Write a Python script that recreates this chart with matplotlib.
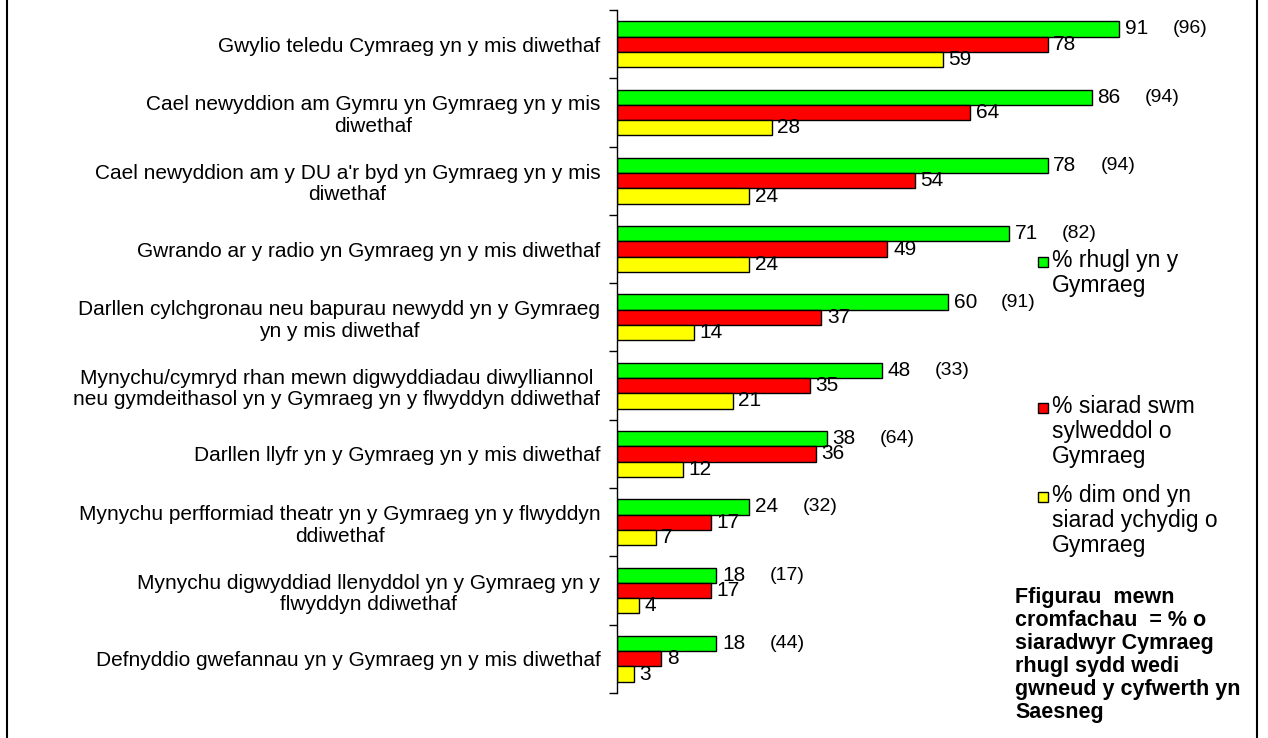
import numpy as np
import matplotlib.pyplot as plt
from matplotlib.lines import Line2D
from matplotlib.patches import Rectangle

plt.rcParams['font.family'] = ['Liberation Sans', 'DejaVu Sans']

categories = [
    "Gwylio teledu Cymraeg yn y mis diwethaf",
    "Cael newyddion am Gymru yn Gymraeg yn y mis\ndiwethaf",
    "Cael newyddion am y DU a'r byd yn Gymraeg yn y mis\ndiwethaf",
    "Gwrando ar y radio yn Gymraeg yn y mis diwethaf",
    "Darllen cylchgronau neu bapurau newydd yn y Gymraeg\nyn y mis diwethaf",
    "Mynychu/cymryd rhan mewn digwyddiadau diwylliannol\nneu gymdeithasol yn y Gymraeg yn y flwyddyn ddiwethaf",
    "Darllen llyfr yn y Gymraeg yn y mis diwethaf",
    "Mynychu perfformiad theatr yn y Gymraeg yn y flwyddyn\nddiwethaf",
    "Mynychu digwyddiad llenyddol yn y Gymraeg yn y\nflwyddyn ddiwethaf",
    "Defnyddio gwefannau yn y Gymraeg yn y mis diwethaf",
]
rhugl = [91, 86, 78, 71, 60, 48, 38, 24, 18, 18]
sylweddol = [78, 64, 54, 49, 37, 35, 36, 17, 17, 8]
ychydig = [59, 28, 24, 24, 14, 21, 12, 7, 4, 3]
saesneg = [96, 94, 94, 82, 91, 33, 64, 32, 17, 44]

series_names = ["% rhugl yn y\nGymraeg",
                "% siarad swm\nsylweddol o\nGymraeg",
                "% dim ond yn\nsiarad ychydig o\nGymraeg"]
colors = ["#00ff00", "#ff0000", "#ffff00"]

note = ("Ffigurau  mewn\ncromfachau  = % o\nsiaradwyr Cymraeg\n"
        "rhugl sydd wedi\ngwneud y cyfwerth yn\nSaesneg")

W, H = 1268, 738
fig = plt.figure(figsize=(W / 100, H / 100), dpi=100)
ax = fig.add_axes([617 / W, 1 - 693 / H, 552 / W, 683 / H])

y = np.arange(len(categories))
h = 0.224
for vals, off, c in zip([rhugl, sylweddol, ychydig], [-h, 0, h], colors):
    ax.barh(y + off, vals, height=h, color=c, edgecolor='black', linewidth=1)
    for yi, v in zip(y + off, vals):
        ax.text(v + 1.0, yi, str(v), va='center', ha='left', fontsize=15)

for yi, v, s in zip(y - h, rhugl, saesneg):
    ax.text(v + 9.6, yi, f"({s})", va='center', ha='left', fontsize=14)

ax.set_xlim(0, 100)
ax.set_ylim(len(categories) - 0.5, -0.5)
ax.set_yticks(np.arange(len(categories) + 1) - 0.5)
ax.set_yticklabels([])
ax.set_yticks(y, minor=True)
ax.set_yticklabels(categories, minor=True, fontsize=15)
for lab in ax.get_yticklabels(minor=True):
    lab.set_multialignment('center')
    lab.set_linespacing(1.15)
ax.tick_params(axis='y', which='major', length=6, width=1, direction='out')
ax.tick_params(axis='y', which='minor', length=0, pad=12)
ax.set_xticks([])
for side in ['top', 'right', 'bottom']:
    ax.spines[side].set_visible(False)
ax.spines['left'].set_linewidth(1)

# legend drawn by hand (uneven spacing as in the original)
leg_tops = [262, 408, 497]
for name, c, t in zip(series_names, colors, leg_tops):
    fig.add_artist(Rectangle((1038 / W, 1 - (t + 5) / H), 10 / W, 10 / H,
                             transform=fig.transFigure, facecolor=c,
                             edgecolor='black', linewidth=1))
    fig.text(1052 / W, 1 - (t - 13) / H, name, ha='left', va='top',
             fontsize=16.5, linespacing=1.1)

fig.text(1015 / W, 1 - 587 / H, note, ha='left', va='top', fontsize=15.5,
         fontweight='bold', linespacing=1.12)

# outer frame
fig.add_artist(Line2D([7 / W, 7 / W], [0, 1], transform=fig.transFigure,
                      color='black', linewidth=1.5))
fig.add_artist(Line2D([1257 / W, 1257 / W], [0, 1], transform=fig.transFigure,
                      color='black', linewidth=1.5))

fig.savefig('out.png', dpi=100)
